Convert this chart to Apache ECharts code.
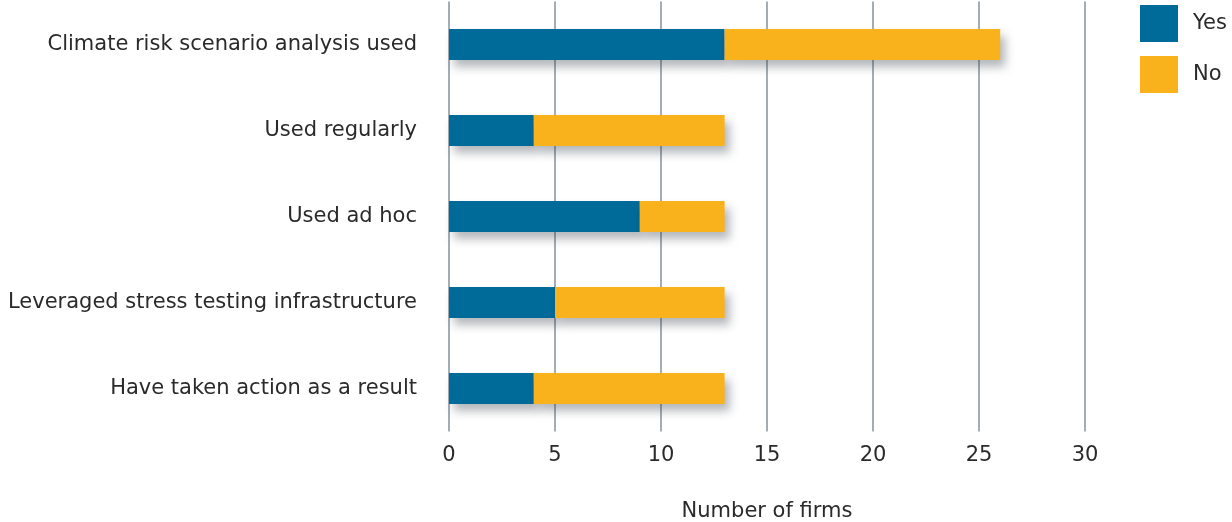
<!DOCTYPE html>
<html>
<head>
<meta charset="utf-8">
<script src="https://cdn.jsdelivr.net/npm/echarts@6/dist/echarts.min.js"></script>
<style>html,body{margin:0;padding:0;background:#fff}#c{width:1232px;height:522px}</style>
</head>
<body>
<div id="c"></div>
<script>
const categories = ["Climate risk scenario analysis used","Used regularly","Used ad hoc","Leveraged stress testing infrastructure","Have taken action as a result"];
const yesValues = [13, 4, 9, 5, 4];
const noValues = [13, 9, 4, 8, 9];
const xTicks = [0, 5, 10, 15, 20, 25, 30];

const FONT = "'DejaVu Sans', sans-serif";
const shadow = {shadowBlur: 10, shadowOffsetX: 5, shadowOffsetY: 7, shadowColor: 'rgba(40,50,60,0.35)'};
const chart = echarts.init(document.getElementById('c'));
chart.setOption({
  animation: false,
  grid: {left: 449, right: 147, top: 1.5, bottom: 90.5, containLabel: false, outerBoundsMode: 'none'},
  legend: {
    orient: 'vertical', left: 1135, top: 0, itemWidth: 38, itemHeight: 37, itemGap: 14,
    icon: 'rect',
    itemStyle: {shadowBlur: 0, shadowOffsetX: 0, shadowOffsetY: 0},
    textStyle: {fontFamily: FONT, fontSize: 21, color: '#2a2a2a', padding: [10, 0, 0, 10]},
    data: ['Yes', 'No']
  },
  xAxis: {
    type: 'value', min: 0, max: 30, interval: 5,
    name: 'Number of firms', nameLocation: 'middle', nameGap: 70,
    nameTextStyle: {fontFamily: FONT, fontSize: 21, color: '#2a2a2a'},
    axisLine: {show: false}, axisTick: {show: false},
    axisLabel: {fontFamily: FONT, fontSize: 21, color: '#2a2a2a', margin: 14,
      formatter: v => xTicks.includes(v) ? String(v) : ''},
    splitLine: {show: true, lineStyle: {color: '#a3adb5', width: 2}}
  },
  yAxis: {
    type: 'category', data: categories, inverse: true,
    axisLine: {show: false}, axisTick: {show: false},
    axisLabel: {fontFamily: FONT, fontSize: 21, color: '#2a2a2a', margin: 32, padding: [10, 0, 0, 0]}
  },
  series: [
    {name: 'Yes', type: 'bar', stack: 't', data: yesValues, barWidth: '36%',
      itemStyle: Object.assign({color: '#006a98'}, shadow)},
    {name: 'No', type: 'bar', stack: 't', data: noValues, barWidth: '36%',
      itemStyle: Object.assign({color: '#f9b21b'}, shadow)}
  ]
});
</script>
</body>
</html>
